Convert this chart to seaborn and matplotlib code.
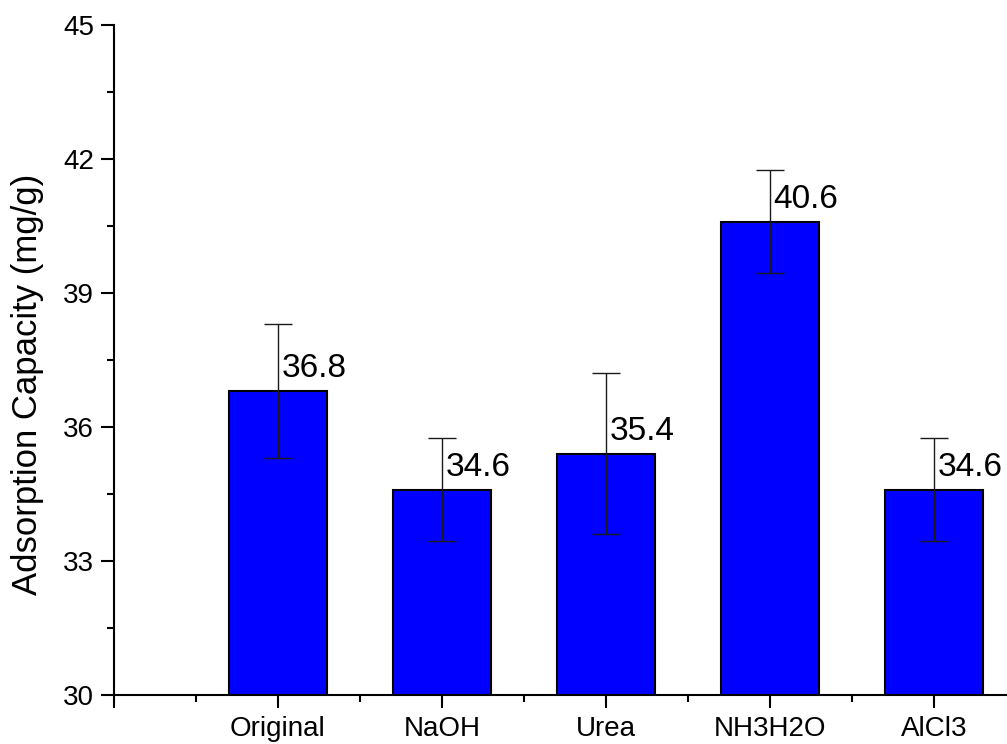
import matplotlib
matplotlib.use("Agg")
import matplotlib.pyplot as plt
from matplotlib.ticker import MultipleLocator, FixedLocator
import seaborn as sns
import pandas as pd

# Adsorption capacity for each treatment (mg/g) and standard deviations
treatments = ["Original", "NaOH", "Urea", "NH3H2O", "AlCl3"]
capacity = [36.8, 34.6, 35.4, 40.6, 34.6]
std_dev = [1.5, 1.15, 1.8, 1.15, 1.15]
value_labels = ["36.8", "34.6", "35.4", "40.6", "34.6"]

sns.set_style("ticks")
plt.rcParams["font.family"] = ["Liberation Sans", "DejaVu Sans"]
plt.rcParams["text.color"] = "black"
plt.rcParams["axes.labelcolor"] = "black"
plt.rcParams["xtick.color"] = "black"
plt.rcParams["ytick.color"] = "black"

df = pd.DataFrame({"treatment": treatments, "capacity": capacity})

fig = plt.figure(figsize=(10.07, 7.44), dpi=100)
ax = fig.add_axes([0.1132, 0.0659, 1 - 0.1132, 0.9005])

sns.barplot(data=df, x="treatment", y="capacity", order=treatments,
            color="#0000FF", saturation=1, width=0.6, errorbar=None,
            edgecolor="black", linewidth=1.5, ax=ax)

xs = list(range(len(treatments)))
ax.errorbar(xs, capacity, yerr=std_dev, fmt="none", ecolor="#1a1a1a",
            elinewidth=1.0, capsize=10, capthick=1.0, zorder=3)

for x, v, lab in zip(xs, capacity, value_labels):
    ax.text(x + 0.02, v + 0.31, lab, ha="left", va="baseline",
            fontsize=24, color="black", zorder=4)

ax.set_ylim(30, 45)
ax.yaxis.set_major_locator(MultipleLocator(3))
ax.yaxis.set_minor_locator(MultipleLocator(1.5))

ax.set_xlim(-1, 4.445)
ax.xaxis.set_major_locator(FixedLocator(range(-1, len(treatments))))
ax.set_xticklabels([""] + treatments)
ax.xaxis.set_minor_locator(FixedLocator([i + 0.5 for i in range(-1, len(treatments))]))

ax.set_xlabel("")
ax.set_ylabel("Adsorption Capacity (mg/g)", fontsize=25)
ax.yaxis.set_label_coords(-0.0784, 0.463)

for side in ["top", "right"]:
    ax.spines[side].set_visible(False)
for side in ["left", "bottom"]:
    ax.spines[side].set_linewidth(1.5)
    ax.spines[side].set_color("black")

ax.tick_params(axis="both", which="major", direction="out", length=9.4,
               width=1.5, color="black", labelsize=20)
ax.tick_params(axis="x", which="major", pad=5.5)
ax.tick_params(axis="y", which="major", pad=5)
ax.tick_params(axis="both", which="minor", direction="out", length=5,
               width=1.5, color="black")

fig.savefig("out.png", dpi=100)
